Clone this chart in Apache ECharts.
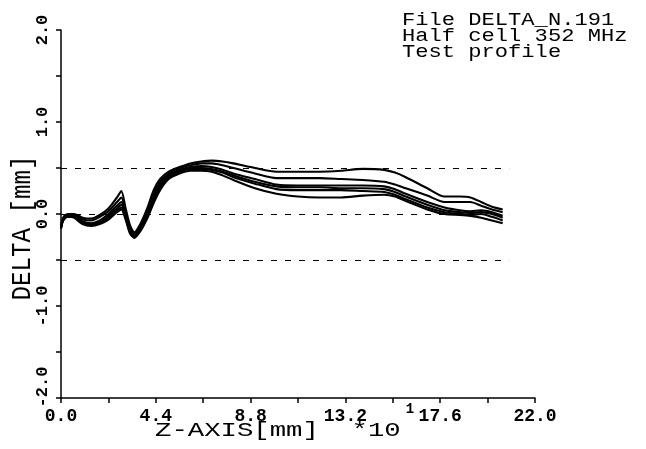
<!DOCTYPE html>
<html>
<head>
<meta charset="utf-8">
<script src="https://cdn.jsdelivr.net/npm/echarts@6/dist/echarts.min.js"></script>
<style>
html,body{margin:0;padding:0;background:#fff;}
#chart{width:646px;height:449px;}
</style>
</head>
<body>
<div id="chart"></div>
<script>
// Z positions (x10 mm)
var zValues = [0, 0.1, 0.3, 0.6, 1.0, 1.4, 1.8, 2.2, 2.6, 2.8, 3.0, 3.2, 3.4, 3.7, 4.0, 4.3, 4.6, 5.0, 5.5, 6.0, 6.5, 7.0, 7.5, 8.0, 9.0, 10.0, 11.0, 12.0, 13.0, 14.0, 15.0, 15.5, 16.0, 17.0, 17.8, 18.5, 19.0, 19.5, 20.0, 20.5];
// DELTA profiles (mm)
var profileA = [-0.14, -0.04, 0.0, 0.0, -0.04, -0.05, -0.01, 0.06, 0.18, 0.25, 0.06, -0.12, -0.2, -0.1, 0.06, 0.26, 0.38, 0.46, 0.51, 0.55, 0.57, 0.58, 0.57, 0.55, 0.5, 0.46, 0.46, 0.46, 0.47, 0.49, 0.48, 0.45, 0.4, 0.28, 0.19, 0.19, 0.18, 0.13, 0.08, 0.05];
var profileB = [-0.14, -0.05, -0.01, -0.01, -0.06, -0.07, -0.03, 0.03, 0.13, 0.18, 0.02, -0.15, -0.22, -0.13, 0.03, 0.22, 0.35, 0.44, 0.5, 0.53, 0.55, 0.55, 0.53, 0.5, 0.44, 0.39, 0.39, 0.39, 0.38, 0.37, 0.35, 0.32, 0.28, 0.2, 0.13, 0.13, 0.13, 0.09, 0.05, 0.02];
var profileC = [-0.15, -0.06, -0.02, -0.02, -0.08, -0.1, -0.07, 0.0, 0.09, 0.13, -0.01, -0.17, -0.23, -0.15, 0.0, 0.18, 0.32, 0.42, 0.48, 0.51, 0.52, 0.51, 0.48, 0.44, 0.38, 0.32, 0.31, 0.31, 0.31, 0.31, 0.3, 0.27, 0.22, 0.13, 0.07, 0.04, 0.03, 0.04, 0.02, -0.02];
var profileD = [-0.15, -0.06, -0.02, -0.03, -0.09, -0.11, -0.09, -0.02, 0.06, 0.1, -0.03, -0.19, -0.24, -0.16, -0.02, 0.16, 0.3, 0.41, 0.47, 0.5, 0.5, 0.49, 0.46, 0.42, 0.35, 0.3, 0.29, 0.29, 0.28, 0.28, 0.27, 0.24, 0.19, 0.1, 0.04, 0.02, 0.01, 0.02, 0.0, -0.04];
var profileE = [-0.15, -0.07, -0.03, -0.03, -0.1, -0.12, -0.1, -0.04, 0.04, 0.07, -0.04, -0.2, -0.25, -0.17, -0.03, 0.14, 0.28, 0.4, 0.46, 0.49, 0.49, 0.48, 0.45, 0.4, 0.33, 0.27, 0.26, 0.26, 0.26, 0.25, 0.24, 0.21, 0.16, 0.07, 0.02, 0.0, -0.01, 0.0, -0.03, -0.07];
var profileF = [-0.16, -0.07, -0.03, -0.04, -0.11, -0.13, -0.11, -0.06, 0.02, 0.05, -0.06, -0.21, -0.26, -0.18, -0.05, 0.12, 0.26, 0.38, 0.44, 0.47, 0.47, 0.46, 0.42, 0.37, 0.28, 0.22, 0.19, 0.18, 0.18, 0.2, 0.21, 0.19, 0.14, 0.05, 0.0, -0.01, -0.02, -0.04, -0.07, -0.1];
// tolerance reference lines
var refLevels = [0.5, 0.0, -0.5];
var refStart = 0;
var refEnd = 20.8;
// tick labels
var xTickValues = [0, 4.4, 8.8, 13.2, 17.6, 22.0];
var xTickLabels = ['0.0', '4.4', '8.8', '13.2', '17.6', '22.0'];
var yTickValues = [-2, -1, 0, 1, 2];
var yTickLabels = ['-2.0', '-1.0', '0.0', '1.0', '2.0'];
// texts
var infoLines = ['File DELTA_N.191', 'Half cell 352 MHz', 'Test profile'];
var xTitle = 'Z-AXIS[mm]  *10';
var yTitle = 'DELTA [mm]';

function lookup(vals, labels, v) {
  for (var i = 0; i < vals.length; i++) if (Math.abs(vals[i] - v) < 1e-6) return labels[i];
  return '';
}
function pairs(ys) { return zValues.map(function (z, i) { return [z, ys[i]]; }); }

var FONT = '"Liberation Mono", "DejaVu Sans Mono", monospace';
var profiles = [profileA, profileB, profileC, profileD, profileE, profileF];
var series = profiles.map(function (p, i) {
  return {
    type: 'line', data: pairs(p), showSymbol: false, smooth: 0.25,
    lineStyle: { color: '#000', width: 2.1 }, silent: true, animation: false, z: 3
  };
});
series[0].markLine = {
  silent: true, symbol: ['none', 'none'], animation: false,
  label: { show: false },
  lineStyle: { color: '#000', width: 1.2, type: [6, 8] },
  data: refLevels.map(function (l) { return [{ coord: [refStart, l] }, { coord: [refEnd, l] }]; })
};

var chart = echarts.init(document.getElementById('chart'), null, { renderer: 'canvas' });
chart.setOption({
  backgroundColor: '#fff',
  animation: false,
  grid: { left: 61, right: 111, top: 30, bottom: 51, containLabel: false },
  xAxis: {
    type: 'value', min: 0, max: 22, interval: 4.4,
    axisLine: { show: true, onZero: false, lineStyle: { color: '#000', width: 1.5 } },
    axisTick: { show: true, length: 5, lineStyle: { color: '#000', width: 1.5 } },
    minorTick: { show: true, splitNumber: 2, length: 5, lineStyle: { color: '#000', width: 1.5 } },
    splitLine: { show: false },
    axisLabel: {
      color: '#000', fontFamily: FONT, fontSize: 18, fontWeight: 'bold', margin: 9,
      formatter: function (v) { return lookup(xTickValues, xTickLabels, v); }
    }
  },
  yAxis: {
    type: 'value', min: -2, max: 2, interval: 1,
    axisLine: { show: true, onZero: false, lineStyle: { color: '#000', width: 1.5 } },
    axisTick: { show: true, length: 5, lineStyle: { color: '#000', width: 1.5 } },
    minorTick: { show: true, splitNumber: 2, length: 5, lineStyle: { color: '#000', width: 1.5 } },
    splitLine: { show: false },
    axisLabel: {
      color: '#000', fontFamily: FONT, fontSize: 17, fontWeight: 'bold', margin: 10, rotate: 90,
      formatter: function (v) {
        var t = lookup(yTickValues, yTickLabels, v);
        return v === -2 ? '{lo|' + t + '}' : t;
      },
      rich: { lo: { fontFamily: FONT, fontSize: 17, fontWeight: 'bold', color: '#000', padding: [0, 0, 0, 22] } }
    }
  },
  graphic: [
    { type: 'text', x: 402, y: 20, scaleX: 1.3, scaleY: 1.05, style: { text: infoLines[0], font: '17px ' + FONT, fill: '#000', align: 'left', verticalAlign: 'middle' } },
    { type: 'text', x: 402, y: 36, scaleX: 1.3, scaleY: 1.05, style: { text: infoLines[1], font: '17px ' + FONT, fill: '#000', align: 'left', verticalAlign: 'middle' } },
    { type: 'text', x: 402, y: 52, scaleX: 1.3, scaleY: 1.05, style: { text: infoLines[2], font: '17px ' + FONT, fill: '#000', align: 'left', verticalAlign: 'middle' } },
    { type: 'text', x: 155, y: 430, scaleX: 1.3, style: { text: xTitle, font: '21px ' + FONT, fill: '#000', align: 'left', verticalAlign: 'middle' } },
    { type: 'text', x: 23, y: 228, rotation: Math.PI / 2, scaleX: 1.15, scaleY: 1.3, style: { text: yTitle, font: '21px ' + FONT, fill: '#000', align: 'center', verticalAlign: 'middle' } },
    { type: 'text', x: 410, y: 409, style: { text: '1', font: 'bold 14px ' + FONT, fill: '#000', align: 'center', verticalAlign: 'middle' } }
  ],
  series: series
});
</script>
</body>
</html>
